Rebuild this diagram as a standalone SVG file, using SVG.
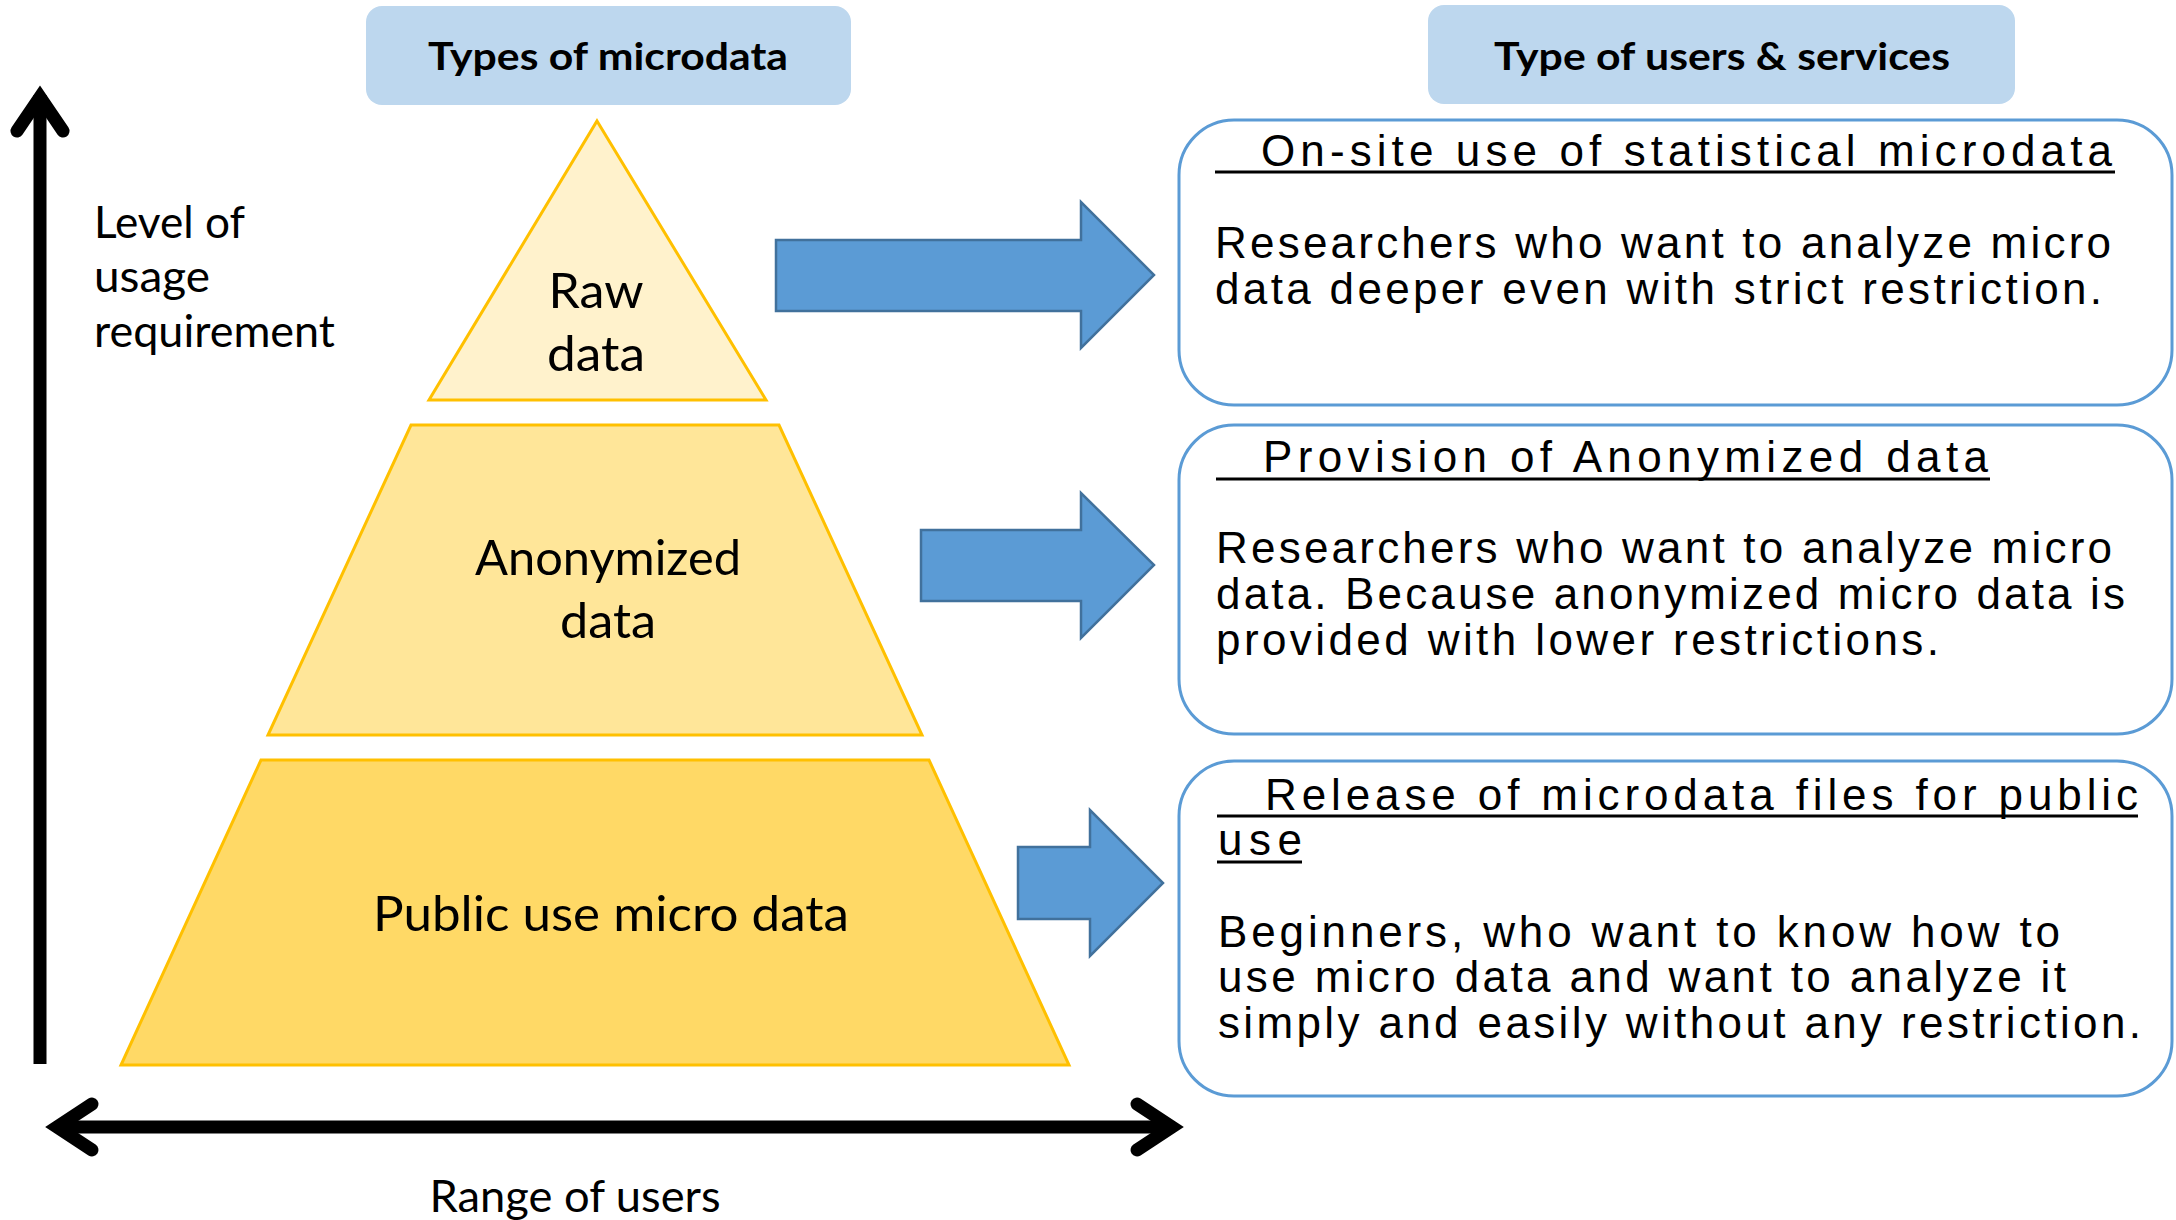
<svg xmlns="http://www.w3.org/2000/svg" width="2176" height="1220" viewBox="0 0 2176 1220">
  <style>
    .hdr { fill: #BDD7EE; }
    .hdr-t { font-family: Lato, "Open Sans", sans-serif; font-weight: bold; font-size: 38px; fill: #000; text-anchor: middle; }
    .lbl { font-family: Lato, "Open Sans", sans-serif; font-size: 49px; fill: #000; text-anchor: middle; }
    .axis-t { font-family: Lato, "Open Sans", sans-serif; font-size: 44px; fill: #000; }
    .tier { stroke: #FFC000; stroke-width: 3; stroke-linejoin: miter; }
    .svc { fill: #FFFFFF; stroke: #5B9BD5; stroke-width: 3; }
    .svc-t { font-family: "Liberation Sans", Arial, sans-serif; font-size: 44px; fill: #000; }
    .ul { stroke: #000; stroke-width: 3; }
    .flow { fill: #5B9BD5; stroke: #41719C; stroke-width: 2.5; stroke-linejoin: miter; }
    .axis { fill: none; stroke: #000; stroke-width: 13; }
    .axis-head { fill: none; stroke: #000; stroke-width: 13; stroke-linecap: round; stroke-linejoin: miter; stroke-miterlimit: 6; }
  </style>

  <!-- column headers -->
  <g id="header-types">
    <rect class="hdr" x="366" y="6" width="485" height="99" rx="16"/>
    <text class="hdr-t" x="608" y="70" textLength="360" lengthAdjust="spacingAndGlyphs">Types of microdata</text>
  </g>
  <g id="header-services">
    <rect class="hdr" x="1428" y="5" width="587" height="99" rx="16"/>
    <text class="hdr-t" x="1722" y="70" textLength="456" lengthAdjust="spacingAndGlyphs">Type of users &amp; services</text>
  </g>

  <!-- axes -->
  <g id="axis-level">
    <line class="axis" x1="40" y1="95" x2="40" y2="1064"/>
    <polyline class="axis-head" points="17,131 40,97 63,131"/>
    <text class="axis-t" x="94" y="238" textLength="151" lengthAdjust="spacingAndGlyphs">Level of</text>
    <text class="axis-t" x="94" y="292" textLength="116" lengthAdjust="spacingAndGlyphs">usage</text>
    <text class="axis-t" x="94" y="347" textLength="241" lengthAdjust="spacingAndGlyphs">requirement</text>
  </g>
  <g id="axis-range">
    <line class="axis" x1="56" y1="1127" x2="1172" y2="1127"/>
    <polyline class="axis-head" points="92,1104 57,1127 92,1150"/>
    <polyline class="axis-head" points="1137,1104 1172,1127 1137,1150"/>
    <text class="axis-t" x="575" y="1212" text-anchor="middle" textLength="291" lengthAdjust="spacingAndGlyphs">Range of users</text>
  </g>

  <!-- pyramid tiers -->
  <g id="tier-raw">
    <polygon class="tier" fill="#FFF2CC" points="597,121 766,400 429,400"/>
    <text class="lbl" x="596" y="308" textLength="95" lengthAdjust="spacingAndGlyphs">Raw</text>
    <text class="lbl" x="596" y="371" textLength="98" lengthAdjust="spacingAndGlyphs">data</text>
  </g>
  <g id="tier-anonymized">
    <polygon class="tier" fill="#FFE699" points="411,425 779,425 922,735 268,735"/>
    <text class="lbl" x="608" y="575" textLength="266" lengthAdjust="spacingAndGlyphs">Anonymized</text>
    <text class="lbl" x="608" y="638" textLength="96" lengthAdjust="spacingAndGlyphs">data</text>
  </g>
  <g id="tier-public">
    <polygon class="tier" fill="#FFD966" points="261,760 929,760 1069,1065 121,1065"/>
    <text class="lbl" x="611" y="931" textLength="476" lengthAdjust="spacingAndGlyphs">Public use micro data</text>
  </g>

  <!-- service boxes -->
  <g id="svc-onsite">
    <rect class="svc" x="1179" y="120" width="993" height="285" rx="55"/>
    <text class="svc-t" x="1261" y="166" textLength="851" lengthAdjust="spacing">On-site use of statistical microdata</text>
    <line class="ul" x1="1215" y1="172" x2="2115" y2="172"/>
    <text class="svc-t" x="1215" y="258" textLength="896" lengthAdjust="spacing">Researchers who want to analyze micro</text>
    <text class="svc-t" x="1215" y="304" textLength="887" lengthAdjust="spacing">data deeper even with strict restriction.</text>
  </g>
  <g id="svc-anonymized">
    <rect class="svc" x="1179" y="425" width="993" height="309" rx="55"/>
    <text class="svc-t" x="1263" y="472" textLength="725" lengthAdjust="spacing">Provision of Anonymized data</text>
    <line class="ul" x1="1216" y1="479" x2="1990" y2="479"/>
    <text class="svc-t" x="1216" y="563" textLength="896" lengthAdjust="spacing">Researchers who want to analyze micro</text>
    <text class="svc-t" x="1216" y="609" textLength="909" lengthAdjust="spacing">data. Because anonymized micro data is</text>
    <text class="svc-t" x="1216" y="655" textLength="723" lengthAdjust="spacing">provided with lower restrictions.</text>
  </g>
  <g id="svc-public">
    <rect class="svc" x="1179" y="761" width="993" height="335" rx="55"/>
    <text class="svc-t" x="1265" y="810" textLength="873" lengthAdjust="spacing">Release of microdata files for public</text>
    <line class="ul" x1="1217" y1="816" x2="2138" y2="816"/>
    <text class="svc-t" x="1218" y="855" textLength="84" lengthAdjust="spacing">use</text>
    <line class="ul" x1="1217" y1="862" x2="1302" y2="862"/>
    <text class="svc-t" x="1218" y="947" textLength="842" lengthAdjust="spacing">Beginners, who want to know how to</text>
    <text class="svc-t" x="1218" y="992" textLength="848" lengthAdjust="spacing">use micro data and want to analyze it</text>
    <text class="svc-t" x="1218" y="1038" textLength="923" lengthAdjust="spacing">simply and easily without any restriction.</text>
  </g>

  <!-- block arrows from tiers to services -->
  <g id="connectors">
    <polygon class="flow" points="776,240 1081,240 1081,202 1154,275 1081,348 1081,311 776,311"/>
    <polygon class="flow" points="921,530 1081,530 1081,493 1154,565 1081,638 1081,601 921,601"/>
    <polygon class="flow" points="1018,847 1090,847 1090,810 1163,883 1090,956 1090,919 1018,919"/>
  </g>
</svg>
